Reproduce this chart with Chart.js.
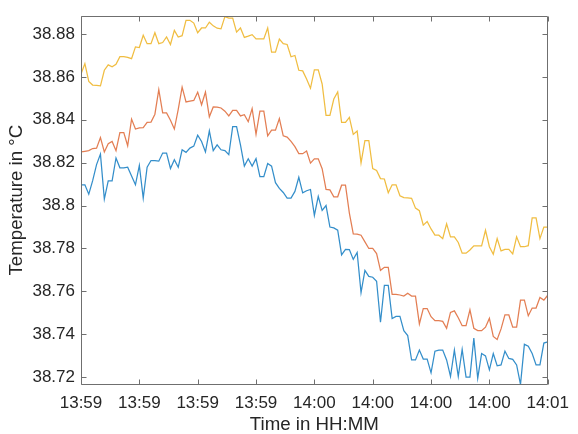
<!DOCTYPE html>
<html>
<head>
<meta charset="utf-8">
<script src="https://cdn.jsdelivr.net/npm/chart.js@4/dist/chart.umd.min.js"></script>
<style>html,body{margin:0;padding:0;background:#fff;}canvas{display:block;}</style>
</head>
<body>
<canvas id="c" width="578" height="434"></canvas>
<script>
const xTickValues = [0, 15, 30, 45, 60, 75, 90, 105, 120];
const xTickLabels = ["13:59","13:59","13:59","13:59","14:00","14:00","14:00","14:00","14:01"];
const yTickValues = [38.72, 38.74, 38.76, 38.78, 38.80, 38.82, 38.84, 38.86, 38.88];

const sensor1 = [38.8097,38.8097,38.8053,38.8116,38.8191,38.8240,38.8030,38.8115,38.8115,38.8222,
38.8176,38.8176,38.8179,38.8138,38.8097,38.8187,38.8035,38.8179,38.8210,38.8210,
38.8207,38.8245,38.8245,38.8173,38.8214,38.8179,38.8260,38.8248,38.8268,38.8277,
38.8328,38.8299,38.8250,38.8348,38.8256,38.8283,38.8260,38.8256,38.8237,38.8368,
38.8368,38.8283,38.8184,38.8218,38.8184,38.8219,38.8135,38.8135,38.8196,38.8184,
38.8107,38.8080,38.8061,38.8035,38.8035,38.8066,38.8132,38.8059,38.8069,38.8075,
38.7954,38.8043,38.7977,38.8000,38.7900,38.7896,38.7885,38.7770,38.7796,38.7795,
38.7749,38.7781,38.7594,38.7698,38.7670,38.7666,38.7647,38.7456,38.7628,38.7628,
38.7473,38.7483,38.7483,38.7417,38.7394,38.7280,38.7280,38.7326,38.7284,38.7284,
38.7220,38.7321,38.7326,38.7326,38.7280,38.7203,38.7326,38.7203,38.7329,38.7200,
38.7200,38.7382,38.7195,38.7310,38.7299,38.7234,38.7310,38.7253,38.7257,38.7321,
38.7287,38.7283,38.7257,38.7166,38.7353,38.7344,38.7310,38.7257,38.7257,38.7359,
38.7364];

const sensor2 = [38.8250,38.8253,38.8256,38.8266,38.8268,38.8317,38.8250,38.8288,38.8299,38.8256,
38.8340,38.8340,38.8279,38.8403,38.8357,38.8362,38.8363,38.8388,38.8389,38.8426,
38.8541,38.8432,38.8432,38.8398,38.8357,38.8449,38.8552,38.8483,38.8487,38.8490,
38.8529,38.8470,38.8529,38.8414,38.8460,38.8459,38.8455,38.8440,38.8418,38.8444,
38.8444,38.8418,38.8424,38.8391,38.8452,38.8332,38.8440,38.8440,38.8325,38.8352,
38.8352,38.8406,38.8325,38.8319,38.8299,38.8275,38.8242,38.8242,38.8254,38.8198,
38.8218,38.8218,38.8172,38.8075,38.8073,38.8041,38.8041,38.8095,38.8095,38.7965,
38.7868,38.7867,38.7862,38.7831,38.7800,38.7800,38.7776,38.7698,38.7712,38.7712,
38.7586,38.7586,38.7583,38.7578,38.7591,38.7578,38.7578,38.7448,38.7520,38.7520,
38.7482,38.7463,38.7463,38.7460,38.7428,38.7502,38.7509,38.7477,38.7440,38.7440,
38.7514,38.7428,38.7417,38.7417,38.7433,38.7474,38.7390,38.7376,38.7425,38.7490,
38.7490,38.7433,38.7433,38.7559,38.7559,38.7486,38.7522,38.7522,38.7571,38.7559,
38.7582];

const sensor3 = [38.8613,38.8662,38.8579,38.8562,38.8560,38.8558,38.8631,38.8656,38.8647,38.8659,
38.8694,38.8694,38.8691,38.8685,38.8740,38.8737,38.8794,38.8755,38.8755,38.8806,
38.8755,38.8760,38.8786,38.8751,38.8817,38.8786,38.8792,38.8864,38.8864,38.8851,
38.8806,38.8828,38.8828,38.8855,38.8838,38.8827,38.8824,38.8881,38.8874,38.8874,
38.8809,38.8828,38.8784,38.8790,38.8797,38.8777,38.8777,38.8777,38.8828,38.8715,
38.8715,38.8776,38.8755,38.8751,38.8694,38.8700,38.8631,38.8628,38.8590,38.8547,
38.8633,38.8633,38.8567,38.8420,38.8420,38.8497,38.8530,38.8388,38.8388,38.8411,
38.8332,38.8348,38.8199,38.8303,38.8303,38.8173,38.8164,38.8126,38.8124,38.8060,
38.8097,38.8097,38.8046,38.8037,38.8036,38.8034,38.7988,38.7976,38.7909,38.7926,
38.7891,38.7862,38.7862,38.7846,38.7915,38.7854,38.7854,38.7828,38.7778,38.7778,
38.7793,38.7812,38.7812,38.7812,38.7885,38.7808,38.7773,38.7846,38.7789,38.7796,
38.7796,38.7775,38.7854,38.7808,38.7808,38.7813,38.7943,38.7943,38.7846,38.7900,
38.7900];

const toPoints = arr => arr.map((v, i) => ({x: i, y: v}));

const FONT = "'Liberation Sans', Arial, Helvetica, sans-serif";
const TEXT = '#262626';
const AXIS = '#6f6f6f';

const boxPlugin = {
  id: 'boxTicks',
  afterDraw(chart) {
    const {ctx, chartArea: a, scales: {x, y}} = chart;
    const L = Math.round(a.left) + 0.5, R = Math.round(a.right) - 0.5;
    const T = Math.round(a.top) + 0.5, B = Math.round(a.bottom) + 0.5;
    const tl = 5;
    ctx.save();
    ctx.strokeStyle = AXIS;
    ctx.lineWidth = 1;
    ctx.beginPath();
    ctx.moveTo(L, T); ctx.lineTo(R, T); ctx.lineTo(R, B); ctx.lineTo(L, B); ctx.closePath();
    xTickValues.forEach(v => {
      const px = Math.round(x.getPixelForValue(v)) + 0.5;
      ctx.moveTo(px, B); ctx.lineTo(px, B - tl);
      ctx.moveTo(px, T); ctx.lineTo(px, T + tl);
    });
    yTickValues.forEach(v => {
      const py = Math.round(y.getPixelForValue(v)) + 0.5;
      ctx.moveTo(L, py); ctx.lineTo(L + tl, py);
      ctx.moveTo(R, py); ctx.lineTo(R - tl, py);
    });
    ctx.stroke();
    ctx.restore();
  }
};

new Chart(document.getElementById('c'), {
  type: 'line',
  data: {
    datasets: [
      {label: 'Sensor 1', data: toPoints(sensor1), borderColor: 'rgba(0,114,189,0.8)', borderWidth: 1.25, pointRadius: 0, fill: false, tension: 0},
      {label: 'Sensor 2', data: toPoints(sensor2), borderColor: 'rgba(217,83,25,0.75)', borderWidth: 1.25, pointRadius: 0, fill: false, tension: 0},
      {label: 'Sensor 3', data: toPoints(sensor3), borderColor: 'rgba(237,177,32,0.85)', borderWidth: 1.25, pointRadius: 0, fill: false, tension: 0}
    ]
  },
  options: {
    responsive: false,
    animation: false,
    devicePixelRatio: 1,
    layout: {padding: {top: 11, right: 22, bottom: 0, left: 0}},
    plugins: {legend: {display: false}, tooltip: {enabled: false}},
    scales: {
      x: {
        type: 'linear',
        min: 0, max: 120,
        grid: {display: false, drawTicks: false},
        border: {display: false},
        afterFit(s) { s.height = 50; },
        afterBuildTicks(s) { s.ticks = xTickValues.map(v => ({value: v})); },
        ticks: {
          autoSkip: false, maxRotation: 0, padding: 9,
          color: TEXT, font: {family: FONT, size: 17, lineHeight: 1.2},
          callback: (v) => xTickLabels[xTickValues.indexOf(v)]
        },
        title: {display: true, text: 'Time in HH:MM', color: TEXT,
          font: {family: FONT, size: 18.7, lineHeight: 1}, padding: {top: 0, bottom: 0}}
      },
      y: {
        type: 'linear',
        min: 38.7168, max: 38.8883,
        grid: {display: false, drawTicks: false},
        border: {display: false},
        afterFit(s) { s.width = 81; },
        afterBuildTicks(s) { s.ticks = yTickValues.map(v => ({value: v})); },
        ticks: {
          padding: 6, color: TEXT, font: {family: FONT, size: 17},
          callback: (v) => String(parseFloat(Number(v).toFixed(2)))
        },
        title: {display: true, text: 'Temperature in °C', color: TEXT,
          font: {family: FONT, size: 18.7, lineHeight: 1}, padding: {top: 7.5, bottom: 0}}
      }
    }
  },
  plugins: [boxPlugin]
});
</script>
</body>
</html>
